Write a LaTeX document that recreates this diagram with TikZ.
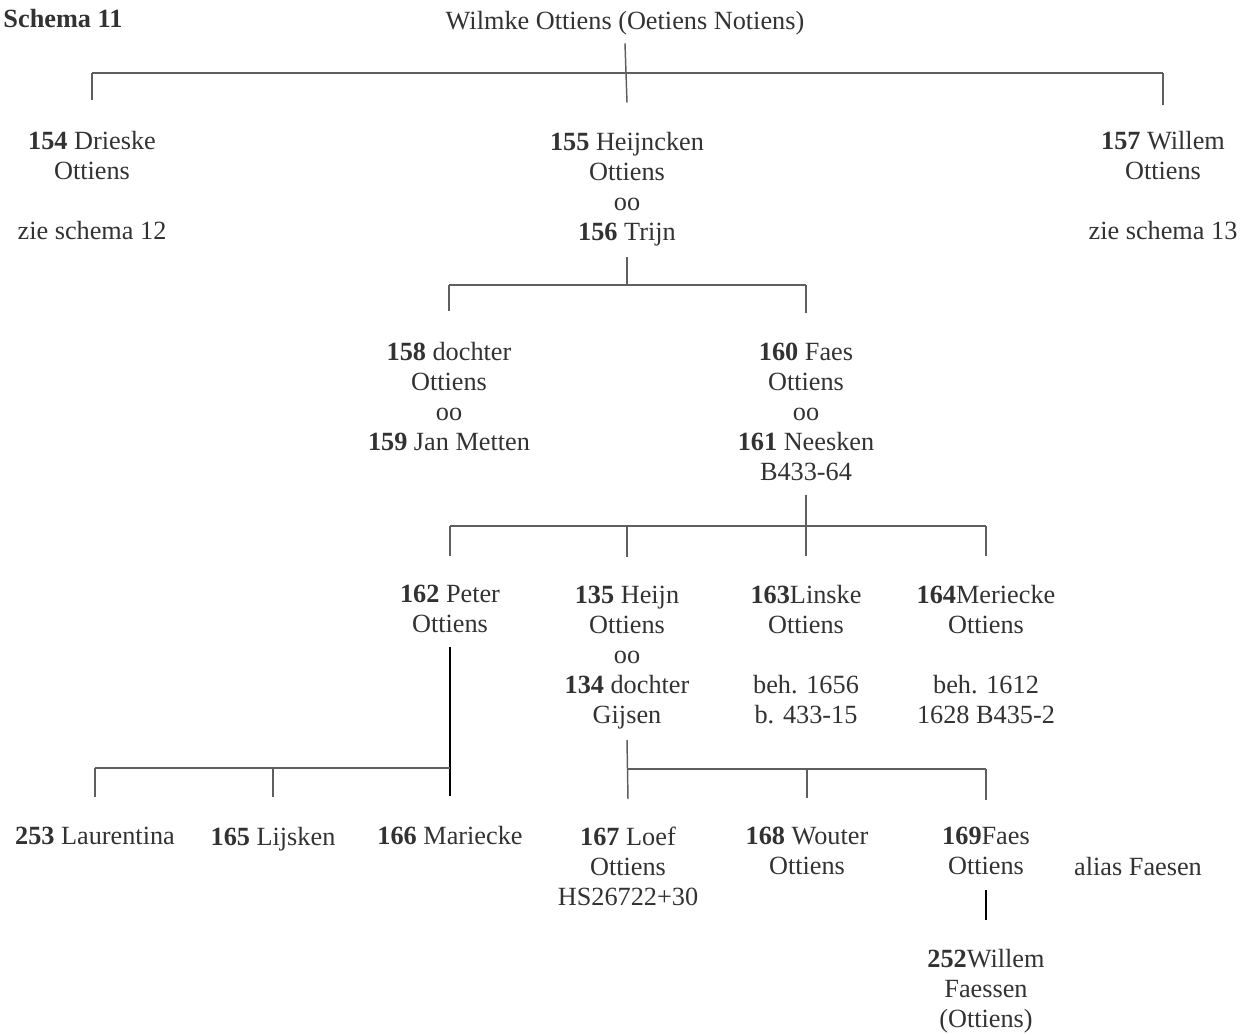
\documentclass[tikz,border=0pt]{standalone}
\usepackage{fontspec}
\setmainfont{Liberation Serif}
\usetikzlibrary{calc}
\definecolor{inkgray}{RGB}{50,50,50}
\definecolor{linegray}{RGB}{95,95,95}
\tikzset{every picture/.style={line width=0.75pt}}
\tikzset{
  person/.style={align=center,inner sep=0pt,text=inkgray,font=\fontsize{19.7}{22.5}\selectfont},
  conn/.style={draw=linegray,line width=1.1pt},
  mainline/.style={draw=black,line width=1.3pt}
}

\begin{document}
\begin{tikzpicture}[x=0.75pt,y=0.75pt,yscale=-1,xscale=1]
\useasboundingbox (0,0) rectangle (1250,1035);

% Text Node
\node[person,anchor=west] (title) at (3,19) {\textbf{Schema 11}};
\node[person] (w) at (625,23) {Wilmke Ottiens (Oetiens Notiens)};

% generation 1
\node[person] (p154) at (92,186) {\textbf{154} Drieske\\Ottiens\\[22.5pt]zie schema 12};
\node[person] (p155) at (627,189) {\textbf{155} Heijncken\\Ottiens\\oo\\\textbf{156} Trijn};
\node[person] (p157) at (1163,186) {\textbf{157} Willem\\Ottiens\\[22.5pt]zie schema 13};

% generation 2
\node[person] (p158) at (449,397) {\textbf{158} dochter\\Ottiens\\oo\\\textbf{159} Jan Metten};
\node[person] (p160) at (806,412) {\textbf{160} Faes\\Ottiens\\oo\\\textbf{161} Neesken\\B433-64};

% generation 3
\node[person] (p162) at (450,609) {\textbf{162} Peter\\Ottiens};
\node[person] (p135) at (627,658) {\textbf{135} Heijn\\Ottiens\\oo\\\textbf{134} dochter\\Gijsen};
\node[person] (p163) at (806,655) {\textbf{163}Linske\\Ottiens\\[22.5pt]beh. 1656\\b. 433-15};
\node[person] (p164) at (986,655) {\textbf{164}Meriecke\\Ottiens\\[22.5pt]beh. 1612\\1628 B435-2};

% generation 4
\node[person] (p253) at (95,836) {\textbf{253} Laurentina};
\node[person] (p165) at (273,839) {\textbf{165} Lijsken};
\node[person] (p166) at (450,836) {\textbf{166} Mariecke};
\node[person] (p167) at (628,866) {\textbf{167} Loef\\Ottiens\\HS26722+30};
\node[person] (p168) at (807,851) {\textbf{168} Wouter\\Ottiens};
\node[person] (p169) at (986,851) {\textbf{169}Faes\\Ottiens};
\node[person] (alias) at (1138,867) {alias Faesen};
\node[person] (p252) at (986,991) {\textbf{252}Willem\\Faessen\\(Ottiens)};

% bars
\coordinate (bar1) at (626,73);
\coordinate (bar2) at (627,285);
\coordinate (bar3) at (806,526);
\coordinate (bar4a) at (450,768);
\coordinate (bar4b) at (627,769);

%Straight Lines
\draw[conn] ($(w.south)+(0,8)$) -- ($(p155.north)+(0,-29)$);
\draw[conn] (p154.north |- bar1) -- (p157.north |- bar1);
\draw[conn] (p154.north |- bar1) -- ($(p154.north)+(0,-31)$);
\draw[conn] (p157.north |- bar1) -- ($(p157.north)+(0,-26)$);

%Straight Lines
\draw[conn] ($(p155.south)+(0,11)$) -- (p155.south |- bar2);
\draw[conn] (p158.north |- bar2) -- (p160.north |- bar2);
\draw[conn] (p158.north |- bar2) -- ($(p158.north)+(0,-31)$);
\draw[conn] (p160.north |- bar2) -- ($(p160.north)+(0,-30)$);

%Straight Lines
\draw[conn] ($(p160.south)+(0,14)$) -- ($(p163.north)+(0,-29)$);
\draw[conn] (p162.north |- bar3) -- (p164.north |- bar3);
\draw[conn] (p162.north |- bar3) -- ($(p162.north)+(0,-29)$);
\draw[conn] (p135.north |- bar3) -- ($(p135.north)+(0,-29)$);
\draw[conn] (p164.north |- bar3) -- ($(p164.north)+(0,-29)$);

%Straight Lines
\draw[mainline] ($(p162.south)+(0,14)$) -- ($(p166.north)+(0,-30)$);
\draw[conn] (p253.north |- bar4a) -- (p166.north |- bar4a);
\draw[conn] (p253.north |- bar4a) -- ($(p253.north)+(0,-30)$);
\draw[conn] (p165.north |- bar4a) -- ($(p165.north)+(0,-30)$);

%Straight Lines
\draw[conn] ($(p135.south)+(0,10)$) -- ($(p167.north)+(0,-27)$);
\draw[conn] (p167.north |- bar4b) -- (p169.north |- bar4b);
\draw[conn] (p168.north |- bar4b) -- ($(p168.north)+(0,-29)$);
\draw[conn] (p169.north |- bar4b) -- ($(p169.north)+(0,-27)$);
\draw[mainline] ($(p169.south)+(0,15)$) -- ($(p252.north)+(0,-29)$);

\end{tikzpicture}
\end{document}
